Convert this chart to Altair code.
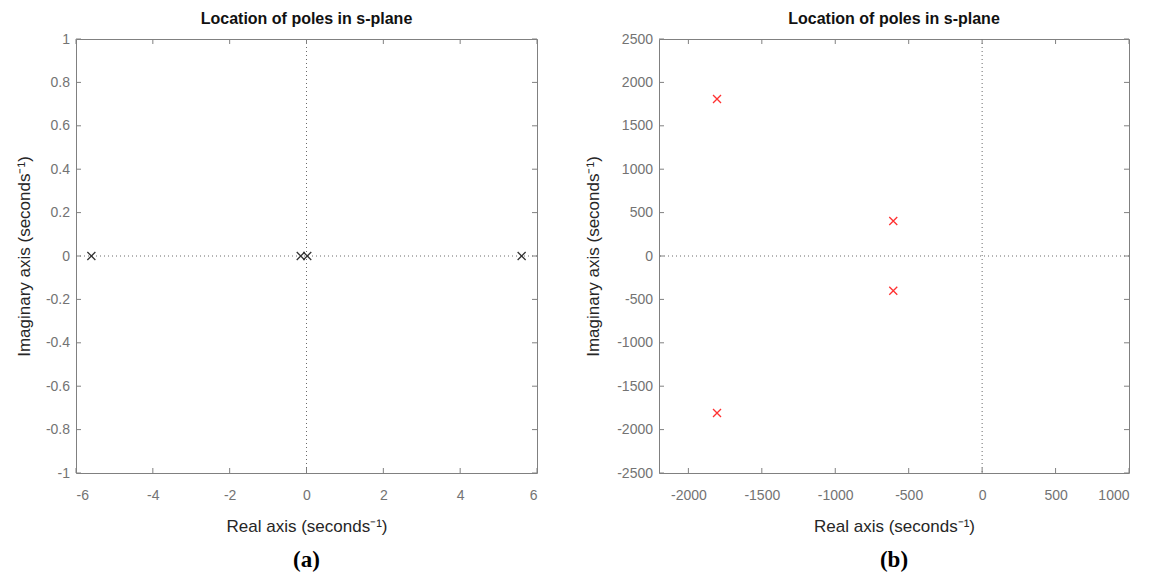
import altair as alt
import pandas as pd

# ---------------- data ----------------
title_text = "Location of poles in s-plane"
x_title = "Real axis (seconds⁻¹)"
y_title = "Imaginary axis (seconds⁻¹)"
panel_labels = ["(a)", "(b)"]

# panel (a)
a_re = [-5.6, -0.15, 0.02, 5.6]
a_im = [0, 0, 0, 0]
a_xticks = [-6, -4, -2, 0, 2, 4, 6]
a_yticks = [-1, -0.8, -0.6, -0.4, -0.2, 0, 0.2, 0.4, 0.6, 0.8, 1]
a_xdomain = [-6, 6]
a_ydomain = [-1, 1]

# panel (b)
b_re = [-1805, -1805, -605, -605]
b_im = [1808, -1808, 403, -400]
b_xticks = [-2000, -1500, -1000, -500, 0, 500, 1000]
b_yticks = [-2500, -2000, -1500, -1000, -500, 0, 500, 1000, 1500, 2000, 2500]
b_xdomain = [-2200, 1000]
b_ydomain = [-2500, 2500]

# ---------------- style ----------------
FRAME = "#808080"
XPATH = "M-1,-1L1,1M-1,1L1,-1"
H = 434


def panel(re, im, xt, yt, xd, yd, color, label, W, ytp):
    xs = alt.Scale(domain=xd, nice=False, zero=False)
    ys = alt.Scale(domain=yd, nice=False, zero=False)
    pts = alt.Chart(pd.DataFrame({"re": re, "im": im})).mark_point(
        shape=XPATH, size=64, filled=False, color=color, strokeWidth=1.3, opacity=1
    ).encode(
        x=alt.X("re:Q", scale=xs,
                axis=alt.Axis(values=xt, title=x_title, labelExpr="datum.value + ''",
                              orient="bottom", labelPadding=15, titlePadding=16)),
        y=alt.Y("im:Q", scale=ys,
                axis=alt.Axis(values=yt, title=y_title, labelExpr="datum.value + ''",
                              orient="left", labelPadding=6.5, titlePadding=ytp)),
    )
    zdf = pd.DataFrame({"z": [0]})
    zero_v = alt.Chart(zdf).mark_rule(color="#6a6a6a", strokeDash=[1, 3], strokeWidth=1).encode(
        x=alt.X("z:Q", scale=xs, axis=None))
    zero_h = alt.Chart(zdf).mark_rule(color="#6a6a6a", strokeDash=[1, 3], strokeWidth=1).encode(
        y=alt.Y("z:Q", scale=ys, axis=None))
    xdf = pd.DataFrame({"v": xt})
    ydf = pd.DataFrame({"v": yt})
    bot = alt.Chart(xdf).mark_rule(color=FRAME).encode(
        x=alt.X("v:Q", scale=xs, axis=None), y=alt.value(H), y2=alt.value(H - 5))
    top = alt.Chart(xdf).mark_rule(color=FRAME).encode(
        x=alt.X("v:Q", scale=xs, axis=None), y=alt.value(0), y2=alt.value(5))
    left = alt.Chart(ydf).mark_rule(color=FRAME).encode(
        y=alt.Y("v:Q", scale=ys, axis=None), x=alt.value(0), x2=alt.value(5))
    right = alt.Chart(ydf).mark_rule(color=FRAME).encode(
        y=alt.Y("v:Q", scale=ys, axis=None), x=alt.value(W), x2=alt.value(W - 5))
    lab = alt.Chart(pd.DataFrame({"t": [label]})).mark_text(
        font="Liberation Serif", fontWeight="bold", fontSize=23, color="black", baseline="middle"
    ).encode(x=alt.value(W / 2), y=alt.value(H + 87), text="t:N")
    return alt.layer(zero_v, zero_h, bot, top, left, right, pts, lab).resolve_axis(
        x="independent", y="independent"
    ).properties(
        width=W, height=H,
        title=alt.TitleParams(title_text, anchor="middle", offset=5),
    )


pa = panel(a_re, a_im, a_xticks, a_yticks, a_xdomain, a_ydomain, "#333333", panel_labels[0], 461, 12)
pb = panel(b_re, b_im, b_xticks, b_yticks, b_xdomain, b_ydomain, "#ff3030", panel_labels[1], 470, 14.5)

chart = alt.hconcat(pa, pb, spacing=45).properties(
    padding={"left": 14, "top": 10, "right": 5, "bottom": 0},
    background="white",
).configure_view(
    stroke=FRAME, strokeWidth=1
).configure_axis(
    labelFont="Liberation Sans", labelFontSize=14, labelColor="#737373",
    titleFont="Liberation Sans", titleFontSize=17, titleFontWeight="normal", titleColor="#262626",
    ticks=False, domain=False, grid=False,
).configure_title(
    font="Liberation Sans", fontSize=16, fontWeight="bold", color="#111111",
)

chart.save("out.html", embed_options={"renderer": "svg", "actions": False})
